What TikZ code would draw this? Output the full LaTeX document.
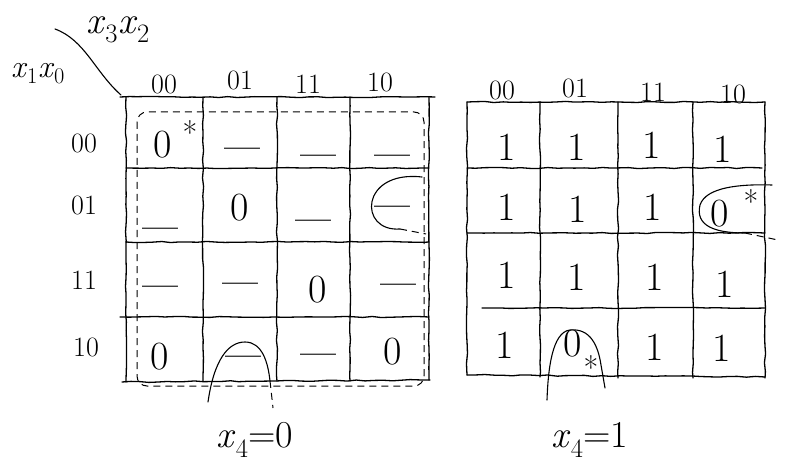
\documentclass[tikz,border=0pt]{standalone}
\usetikzlibrary{decorations.pathmorphing}
\newcommand{\vx}[1]{\textit{x}\textsubscript{#1}}
\begin{document}
\begin{tikzpicture}[x=1pt,y=-1pt,
  grid/.style={line width=1.3pt, line cap=round, decorate, decoration={random steps,segment length=9pt,amplitude=0.6pt}},
  hand/.style={line width=1.1pt, line cap=round},
  dloop/.style={line width=1pt, dash pattern=on 7pt off 5pt},
  val/.style={font=\fontsize{40}{40}\selectfont, inner sep=0pt},
  dc/.style={font=\fontsize{32}{32}\selectfont\bfseries, inner sep=0pt, yshift=-6pt},
  lbl/.style={font=\fontsize{28}{28}\selectfont, inner sep=0pt},
  var/.style={font=\fontsize{38}{38}\selectfont, inner sep=0pt},
  star/.style={font=\fontsize{32}{32}\selectfont, inner sep=0pt}]
\useasboundingbox (0,0) rectangle (786,470);

% ---------- headers ----------
\node[var] (x32) at (118,30) {\vx{3}\vx{2}};
\node[var,font=\fontsize{32}{32}\selectfont] (x10) at (38,74) {\vx{1}\vx{0}};
\coordinate (dA) at (55,29);
\coordinate (dB) at (121,95);
\draw[hand] (dA) .. controls (85,40) and (95,72) .. (dB);

% ---------- left map grid ----------
\draw[grid] (120,97) -- (435,97);
\draw[grid] (126,97) -- (126,382);
\draw[grid] (203,97) -- (203,381);
\draw[grid] (277,97) -- (277,381);
\draw[grid] (350,97) -- (350,381);
\draw[grid] (429,97) -- (429,380);
\draw[grid] (126,168) -- (429,168);
\draw[grid] (126,242) -- (429,242);
\draw[grid] (120,317) -- (429,317);
\draw[grid] (122,382) -- (430,380);

% column / row labels (left)
\node[lbl] (lc0) at (164,84) {00};
\node[lbl] (lc1) at (240,80) {01};
\node[lbl] (lc2) at (308,84) {11};
\node[lbl] (lc3) at (380,82) {10};
\node[lbl] (lr0) at (84,143) {00};
\node[lbl] (lr1) at (84,205) {01};
\node[lbl] (lr2) at (84,280) {11};
\node[lbl] (lr3) at (86,347) {10};

% left map cells
\node[val] (L00) at (163,145) {0};
\node[star] (L00s) at (190,133) {*};
\node[dc] (L01) at (242,147) {---};
\node[dc] (L02) at (318,154) {---};
\node[dc] (L03) at (392,154) {---};
\node[dc] (L10) at (160,227) {---};
\node[val] (L11) at (240,208) {0};
\node[dc] (L12) at (313,219) {---};
\node[dc] (L13) at (392,205) {---};
\node[dc] (L20) at (160,285) {---};
\node[dc] (L21) at (240,282) {---};
\node[val] (L22) at (318,290) {0};
\node[dc] (L23) at (398,283) {---};
\node[val] (L30) at (160,357) {0};
\node[dc] (L31) at (243,355) {---};
\node[dc] (L32) at (318,353) {---};
\node[val] (L33) at (393,352) {0};

% left map loops
\draw[dloop,rounded corners=10pt] (137,112) rectangle (424,386);
\draw[hand] (422,177) .. controls (360,170) and (358,232) .. (400,229);
\draw[dloop] (400,229) -- (426,234);
\draw[hand] (208,402) .. controls (214,360) and (228,342) .. (245,342) .. controls (262,342) and (268,362) .. (270,381);
\draw[dloop] (270,381) -- (273,408);

% ---------- right map grid ----------
\draw[grid] (467,102) -- (765,102);
\draw[grid] (467,102) -- (467,375);
\draw[grid] (540,102) -- (540,377);
\draw[grid] (618,102) -- (618,378);
\draw[grid] (693,102) -- (693,378);
\draw[grid] (765,102) -- (765,378);
\draw[grid] (467,168) -- (762,168);
\draw[grid] (467,233) -- (765,233);
\draw[grid] (482,308) -- (765,308);
\draw[grid] (467,375) -- (765,377);

% column labels (right)
\node[lbl] (rc0) at (502,90) {00};
\node[lbl] (rc1) at (575,88) {01};
\node[lbl] (rc2) at (653,92) {11};
\node[lbl] (rc3) at (733,94) {10};

% right map cells
\node[val] (R00) at (507,147) {1};
\node[val] (R01) at (577,147) {1};
\node[val] (R02) at (652,145) {1};
\node[val] (R03) at (723,149) {1};
\node[val] (R10) at (507,207) {1};
\node[val] (R11) at (578,209) {1};
\node[val] (R12) at (653,207) {1};
\node[val] (R13) at (720,214) {0};
\node[star] (R13s) at (751,202) {*};
\node[val] (R20) at (507,275) {1};
\node[val] (R21) at (577,277) {1};
\node[val] (R22) at (655,277) {1};
\node[val] (R23) at (725,284) {1};
\node[val] (R30) at (505,345) {1};
\node[val] (R31) at (573,344) {0};
\node[star] (R31s) at (591,368) {*};
\node[val] (R32) at (655,347) {1};
\node[val] (R33) at (722,348) {1};

% right map loops
\draw[hand] (772,185) .. controls (740,184) and (706,187) .. (700,205) .. controls (695,226) and (715,233) .. (745,233);
\draw[dloop] (745,233) -- (778,240);
\draw[hand] (547,400) .. controls (548,370) and (552,332) .. (570,330) .. controls (590,328) and (598,345) .. (601,365) -- (605,388);

% ---------- bottom labels ----------
\node[var] (b0) at (255,440) {\vx{4}=0};
\node[var] (b1) at (590,440) {\vx{4}=1};
\end{tikzpicture}
\end{document}
